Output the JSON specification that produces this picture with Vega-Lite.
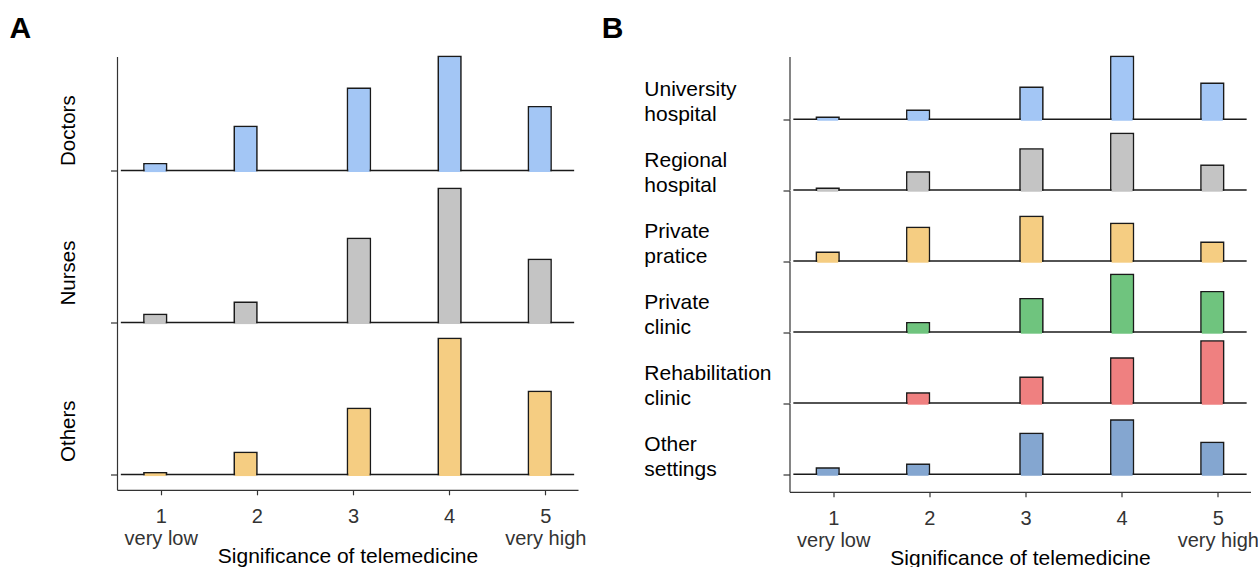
{
  "$schema": "https://vega.github.io/schema/vega-lite/v6.json",
  "padding": {"left": 9, "top": 13.5, "right": 0, "bottom": 0},
  "config": {
    "font": "Liberation Sans",
    "view": {"stroke": null},
    "axis": {"grid": false, "domainColor": "#333333", "tickColor": "#333333", "domainWidth": 1.2, "tickWidth": 1.2, "labelFlush": false, "labelOverlap": false, "labelBound": false}
  },
  "datasets": {
    "a": [
      {"group": "Doctors", "level": 1, "x0": 0.825, "x1": 1.06, "value": 2.2},
      {"group": "Doctors", "level": 2, "x0": 1.765, "x1": 2.0, "value": 14.2},
      {"group": "Doctors", "level": 3, "x0": 2.943, "x1": 3.18, "value": 26.5},
      {"group": "Doctors", "level": 4, "x0": 3.887, "x1": 4.122, "value": 36.8},
      {"group": "Doctors", "level": 5, "x0": 4.825, "x1": 5.06, "value": 20.6},
      {"group": "Nurses", "level": 1, "x0": 0.825, "x1": 1.06, "value": 2.6},
      {"group": "Nurses", "level": 2, "x0": 1.765, "x1": 2.0, "value": 6.5},
      {"group": "Nurses", "level": 3, "x0": 2.943, "x1": 3.18, "value": 27.1},
      {"group": "Nurses", "level": 4, "x0": 3.887, "x1": 4.122, "value": 43.2},
      {"group": "Nurses", "level": 5, "x0": 4.825, "x1": 5.06, "value": 20.3},
      {"group": "Others", "level": 1, "x0": 0.825, "x1": 1.06, "value": 0.6},
      {"group": "Others", "level": 2, "x0": 1.765, "x1": 2.0, "value": 7.1},
      {"group": "Others", "level": 3, "x0": 2.943, "x1": 3.18, "value": 21.3},
      {"group": "Others", "level": 4, "x0": 3.887, "x1": 4.122, "value": 43.9},
      {"group": "Others", "level": 5, "x0": 4.825, "x1": 5.06, "value": 26.8}
    ],
    "b": [
      {"group": "University hospital", "level": 1, "x0": 0.825, "x1": 1.06, "value": 1.4},
      {"group": "University hospital", "level": 2, "x0": 1.765, "x1": 2.0, "value": 6.4},
      {"group": "University hospital", "level": 3, "x0": 2.943, "x1": 3.18, "value": 22.7},
      {"group": "University hospital", "level": 4, "x0": 3.887, "x1": 4.122, "value": 44.5},
      {"group": "University hospital", "level": 5, "x0": 4.825, "x1": 5.06, "value": 25.5},
      {"group": "Regional hospital", "level": 1, "x0": 0.825, "x1": 1.06, "value": 1.4},
      {"group": "Regional hospital", "level": 2, "x0": 1.765, "x1": 2.0, "value": 12.8},
      {"group": "Regional hospital", "level": 3, "x0": 2.943, "x1": 3.18, "value": 29.1},
      {"group": "Regional hospital", "level": 4, "x0": 3.887, "x1": 4.122, "value": 40.1},
      {"group": "Regional hospital", "level": 5, "x0": 4.825, "x1": 5.06, "value": 17.7},
      {"group": "Private pratice", "level": 1, "x0": 0.825, "x1": 1.06, "value": 6.2},
      {"group": "Private pratice", "level": 2, "x0": 1.765, "x1": 2.0, "value": 23.9},
      {"group": "Private pratice", "level": 3, "x0": 2.943, "x1": 3.18, "value": 31.7},
      {"group": "Private pratice", "level": 4, "x0": 3.887, "x1": 4.122, "value": 26.7},
      {"group": "Private pratice", "level": 5, "x0": 4.825, "x1": 5.06, "value": 13.3},
      {"group": "Private clinic", "level": 2, "x0": 1.765, "x1": 2.0, "value": 6.7},
      {"group": "Private clinic", "level": 3, "x0": 2.943, "x1": 3.18, "value": 23.7},
      {"group": "Private clinic", "level": 4, "x0": 3.887, "x1": 4.122, "value": 40.9},
      {"group": "Private clinic", "level": 5, "x0": 4.825, "x1": 5.06, "value": 28.7},
      {"group": "Rehabilitation clinic", "level": 2, "x0": 1.765, "x1": 2.0, "value": 7.1},
      {"group": "Rehabilitation clinic", "level": 3, "x0": 2.943, "x1": 3.18, "value": 18.4},
      {"group": "Rehabilitation clinic", "level": 4, "x0": 3.887, "x1": 4.122, "value": 31.9},
      {"group": "Rehabilitation clinic", "level": 5, "x0": 4.825, "x1": 5.06, "value": 44.0},
      {"group": "Other settings", "level": 1, "x0": 0.825, "x1": 1.06, "value": 4.3},
      {"group": "Other settings", "level": 2, "x0": 1.765, "x1": 2.0, "value": 7.1},
      {"group": "Other settings", "level": 3, "x0": 2.943, "x1": 3.18, "value": 28.9},
      {"group": "Other settings", "level": 4, "x0": 3.887, "x1": 4.122, "value": 38.3},
      {"group": "Other settings", "level": 5, "x0": 4.825, "x1": 5.06, "value": 22.5}
    ]
  },
  "spacing": 15.5,
  "hconcat": [
    {
      "title": {"text": "A", "anchor": "start", "fontSize": 30, "fontWeight": "bold", "color": "#000000", "baseline": "alphabetic", "offset": -12.5, "dx": -49},
      "spacing": 0,
      "bounds": "flush",
      "resolve": {"scale": {"x": "independent", "y": "independent"}},
      "vconcat": [
        {
          "width": 461, "height": 114,
          "data": {"name": "a"},
          "layer": [
            {"transform": [{"filter": "datum.group === 'Doctors'"}],
             "mark": {"type": "rect", "stroke": "#1a1a1a", "strokeWidth": 1.5},
             "encoding": {
               "x": {"field": "x0", "type": "quantitative", "scale": {"domain": [0.545, 5.34], "nice": false, "zero": false}, "axis": null},
               "x2": {"field": "x1"},
               "y": {"field": "value", "type": "quantitative", "scale": {"domain": [0, 36.77], "nice": false, "zero": false},
                     "axis": {"values": [0], "title": null, "tickSize": 6.5, "labelExpr": "'Doctors'", "labelAngle": -90, "labelAlign": "left", "labelBaseline": "alphabetic", "labelPadding": 36, "labelOffset": -5, "labelFontSize": 20.5, "labelColor": "#000000"}},
               "y2": {"datum": 0},
               "fill": {"field": "group", "type": "nominal", "legend": null,
                        "scale": {"domain": ["Doctors", "Nurses", "Others", "University hospital", "Regional hospital", "Private pratice", "Private clinic", "Rehabilitation clinic", "Other settings"], "range": ["#a3c6f5", "#c4c4c4", "#f5cd82", "#a3c6f5", "#c4c4c4", "#f5cd82", "#6fc47e", "#ef8080", "#84a6d0"]}}
             }},
            {"data": {"values": [{}]},
             "mark": {"type": "rule", "color": "#1a1a1a", "strokeWidth": 1.5},
             "encoding": {"x": {"datum": 0.585}, "x2": {"datum": 5.30}, "y": {"datum": 0}}},
            {"transform": [{"filter": "datum.group === 'Doctors'"}],
             "mark": {"type": "rect", "xOffset": 0.8, "x2Offset": -0.8, "yOffset": 0.8, "y2Offset": 1.6},
             "encoding": {
               "x": {"field": "x0", "type": "quantitative"},
               "x2": {"field": "x1"},
               "y": {"field": "value", "type": "quantitative"},
               "y2": {"datum": 0},
               "fill": {"field": "group", "type": "nominal", "legend": null}
             }}
          ]
        },
        {
          "width": 461, "height": 152,
          "data": {"name": "a"},
          "layer": [
            {"transform": [{"filter": "datum.group === 'Nurses'"}],
             "mark": {"type": "rect", "stroke": "#1a1a1a", "strokeWidth": 1.5},
             "encoding": {
               "x": {"field": "x0", "type": "quantitative", "scale": {"domain": [0.545, 5.34], "nice": false, "zero": false}, "axis": null},
               "x2": {"field": "x1"},
               "y": {"field": "value", "type": "quantitative", "scale": {"domain": [0, 49.03], "nice": false, "zero": false},
                     "axis": {"values": [0], "title": null, "tickSize": 6.5, "labelExpr": "'Nurses'", "labelAngle": -90, "labelAlign": "left", "labelBaseline": "alphabetic", "labelPadding": 36, "labelOffset": -17.5, "labelFontSize": 20.5, "labelColor": "#000000"}},
               "y2": {"datum": 0},
               "fill": {"field": "group", "type": "nominal", "legend": null,
                        "scale": {"domain": ["Doctors", "Nurses", "Others", "University hospital", "Regional hospital", "Private pratice", "Private clinic", "Rehabilitation clinic", "Other settings"], "range": ["#a3c6f5", "#c4c4c4", "#f5cd82", "#a3c6f5", "#c4c4c4", "#f5cd82", "#6fc47e", "#ef8080", "#84a6d0"]}}
             }},
            {"data": {"values": [{}]},
             "mark": {"type": "rule", "color": "#1a1a1a", "strokeWidth": 1.5},
             "encoding": {"x": {"datum": 0.585}, "x2": {"datum": 5.30}, "y": {"datum": 0}}},
            {"transform": [{"filter": "datum.group === 'Nurses'"}],
             "mark": {"type": "rect", "xOffset": 0.8, "x2Offset": -0.8, "yOffset": 0.8, "y2Offset": 1.6},
             "encoding": {
               "x": {"field": "x0", "type": "quantitative"},
               "x2": {"field": "x1"},
               "y": {"field": "value", "type": "quantitative"},
               "y2": {"datum": 0},
               "fill": {"field": "group", "type": "nominal", "legend": null}
             }}
          ]
        },
        {
          "width": 461, "height": 167.3,
          "data": {"name": "a"},
          "layer": [
            {"transform": [{"filter": "datum.group === 'Others'"}],
             "mark": {"type": "rect", "stroke": "#1a1a1a", "strokeWidth": 1.5},
             "encoding": {
               "x": {"field": "x0", "type": "quantitative", "scale": {"domain": [0.545, 5.34], "nice": false, "zero": false},
                     "axis": {"values": [1, 2, 3, 4, 5], "tickSize": 5, "labelExpr": "datum.value == 1 ? ['1', 'very low'] : datum.value == 5 ? ['5', 'very high'] : '' + datum.value", "labelFontSize": 20, "labelColor": "#333333", "labelLineHeight": 22, "labelBaseline": "alphabetic", "labelPadding": 27.5, "title": "Significance of telemedicine", "titleFontSize": 21, "titleFontWeight": "normal", "titleColor": "#000000", "titleBaseline": "alphabetic", "titleY": 73}},
               "x2": {"field": "x1"},
               "y": {"field": "value", "type": "quantitative", "scale": {"domain": [-4.94, 49.03], "nice": false, "zero": false},
                     "axis": {"values": [0], "title": null, "tickSize": 6.5, "labelExpr": "'Others'", "labelAngle": -90, "labelAlign": "left", "labelBaseline": "alphabetic", "labelPadding": 36, "labelOffset": -13, "labelFontSize": 20.5, "labelColor": "#000000"}},
               "y2": {"datum": 0},
               "fill": {"field": "group", "type": "nominal", "legend": null,
                        "scale": {"domain": ["Doctors", "Nurses", "Others", "University hospital", "Regional hospital", "Private pratice", "Private clinic", "Rehabilitation clinic", "Other settings"], "range": ["#a3c6f5", "#c4c4c4", "#f5cd82", "#a3c6f5", "#c4c4c4", "#f5cd82", "#6fc47e", "#ef8080", "#84a6d0"]}}
             }},
            {"data": {"values": [{}]},
             "mark": {"type": "rule", "color": "#1a1a1a", "strokeWidth": 1.5},
             "encoding": {"x": {"datum": 0.585}, "x2": {"datum": 5.30}, "y": {"datum": 0}}},
            {"transform": [{"filter": "datum.group === 'Others'"}],
             "mark": {"type": "rect", "xOffset": 0.8, "x2Offset": -0.8, "yOffset": 0.8, "y2Offset": 1.6},
             "encoding": {
               "x": {"field": "x0", "type": "quantitative"},
               "x2": {"field": "x1"},
               "y": {"field": "value", "type": "quantitative"},
               "y2": {"datum": 0},
               "fill": {"field": "group", "type": "nominal", "legend": null}
             }}
          ]
        }
      ]
    },
    {
      "title": {"text": "B", "anchor": "start", "fontSize": 30, "fontWeight": "bold", "color": "#000000", "baseline": "alphabetic", "offset": -12.5, "dx": -42},
      "spacing": 0,
      "bounds": "flush",
      "resolve": {"scale": {"x": "independent", "y": "independent"}},
      "vconcat": [
        {
          "width": 461, "height": 62.7,
          "data": {"name": "b"},
          "layer": [
            {"transform": [{"filter": "datum.group === 'University hospital'"}],
             "mark": {"type": "rect", "stroke": "#1a1a1a", "strokeWidth": 1.5},
             "encoding": {
               "x": {"field": "x0", "type": "quantitative", "scale": {"domain": [0.545, 5.34], "nice": false, "zero": false}, "axis": null},
               "x2": {"field": "x1"},
               "y": {"field": "value", "type": "quantitative", "scale": {"domain": [0, 44.47], "nice": false, "zero": false},
                     "axis": {"values": [0], "title": null, "tickSize": 6.5, "labelExpr": "['University', 'hospital']", "labelAngle": 0, "labelAlign": "left", "labelBaseline": "alphabetic", "labelLineHeight": 25.5, "labelPadding": 139.2, "labelOffset": -24, "labelFontSize": 21, "labelColor": "#000000"}},
               "y2": {"datum": 0},
               "fill": {"field": "group", "type": "nominal", "legend": null,
                        "scale": {"domain": ["Doctors", "Nurses", "Others", "University hospital", "Regional hospital", "Private pratice", "Private clinic", "Rehabilitation clinic", "Other settings"], "range": ["#a3c6f5", "#c4c4c4", "#f5cd82", "#a3c6f5", "#c4c4c4", "#f5cd82", "#6fc47e", "#ef8080", "#84a6d0"]}}
             }},
            {"data": {"values": [{}]},
             "mark": {"type": "rule", "color": "#1a1a1a", "strokeWidth": 1.5},
             "encoding": {"x": {"datum": 0.585}, "x2": {"datum": 5.30}, "y": {"datum": 0}}},
            {"transform": [{"filter": "datum.group === 'University hospital'"}],
             "mark": {"type": "rect", "xOffset": 0.8, "x2Offset": -0.8, "yOffset": 0.8, "y2Offset": 1.6},
             "encoding": {
               "x": {"field": "x0", "type": "quantitative"},
               "x2": {"field": "x1"},
               "y": {"field": "value", "type": "quantitative"},
               "y2": {"datum": 0},
               "fill": {"field": "group", "type": "nominal", "legend": null}
             }}
          ]
        },
        {
          "width": 461, "height": 70.6,
          "data": {"name": "b"},
          "layer": [
            {"transform": [{"filter": "datum.group === 'Regional hospital'"}],
             "mark": {"type": "rect", "stroke": "#1a1a1a", "strokeWidth": 1.5},
             "encoding": {
               "x": {"field": "x0", "type": "quantitative", "scale": {"domain": [0.545, 5.34], "nice": false, "zero": false}, "axis": null},
               "x2": {"field": "x1"},
               "y": {"field": "value", "type": "quantitative", "scale": {"domain": [0, 50.07], "nice": false, "zero": false},
                     "axis": {"values": [0], "title": null, "tickSize": 6.5, "labelExpr": "['Regional', 'hospital']", "labelAngle": 0, "labelAlign": "left", "labelBaseline": "alphabetic", "labelLineHeight": 25.5, "labelPadding": 139.2, "labelOffset": -24, "labelFontSize": 21, "labelColor": "#000000"}},
               "y2": {"datum": 0},
               "fill": {"field": "group", "type": "nominal", "legend": null,
                        "scale": {"domain": ["Doctors", "Nurses", "Others", "University hospital", "Regional hospital", "Private pratice", "Private clinic", "Rehabilitation clinic", "Other settings"], "range": ["#a3c6f5", "#c4c4c4", "#f5cd82", "#a3c6f5", "#c4c4c4", "#f5cd82", "#6fc47e", "#ef8080", "#84a6d0"]}}
             }},
            {"data": {"values": [{}]},
             "mark": {"type": "rule", "color": "#1a1a1a", "strokeWidth": 1.5},
             "encoding": {"x": {"datum": 0.585}, "x2": {"datum": 5.30}, "y": {"datum": 0}}},
            {"transform": [{"filter": "datum.group === 'Regional hospital'"}],
             "mark": {"type": "rect", "xOffset": 0.8, "x2Offset": -0.8, "yOffset": 0.8, "y2Offset": 1.6},
             "encoding": {
               "x": {"field": "x0", "type": "quantitative"},
               "x2": {"field": "x1"},
               "y": {"field": "value", "type": "quantitative"},
               "y2": {"datum": 0},
               "fill": {"field": "group", "type": "nominal", "legend": null}
             }}
          ]
        },
        {
          "width": 461, "height": 70.6,
          "data": {"name": "b"},
          "layer": [
            {"transform": [{"filter": "datum.group === 'Private pratice'"}],
             "mark": {"type": "rect", "stroke": "#1a1a1a", "strokeWidth": 1.5},
             "encoding": {
               "x": {"field": "x0", "type": "quantitative", "scale": {"domain": [0.545, 5.34], "nice": false, "zero": false}, "axis": null},
               "x2": {"field": "x1"},
               "y": {"field": "value", "type": "quantitative", "scale": {"domain": [0, 50.07], "nice": false, "zero": false},
                     "axis": {"values": [0], "title": null, "tickSize": 6.5, "labelExpr": "['Private', 'pratice']", "labelAngle": 0, "labelAlign": "left", "labelBaseline": "alphabetic", "labelLineHeight": 25.5, "labelPadding": 139.2, "labelOffset": -24, "labelFontSize": 21, "labelColor": "#000000"}},
               "y2": {"datum": 0},
               "fill": {"field": "group", "type": "nominal", "legend": null,
                        "scale": {"domain": ["Doctors", "Nurses", "Others", "University hospital", "Regional hospital", "Private pratice", "Private clinic", "Rehabilitation clinic", "Other settings"], "range": ["#a3c6f5", "#c4c4c4", "#f5cd82", "#a3c6f5", "#c4c4c4", "#f5cd82", "#6fc47e", "#ef8080", "#84a6d0"]}}
             }},
            {"data": {"values": [{}]},
             "mark": {"type": "rule", "color": "#1a1a1a", "strokeWidth": 1.5},
             "encoding": {"x": {"datum": 0.585}, "x2": {"datum": 5.30}, "y": {"datum": 0}}},
            {"transform": [{"filter": "datum.group === 'Private pratice'"}],
             "mark": {"type": "rect", "xOffset": 0.8, "x2Offset": -0.8, "yOffset": 0.8, "y2Offset": 1.6},
             "encoding": {
               "x": {"field": "x0", "type": "quantitative"},
               "x2": {"field": "x1"},
               "y": {"field": "value", "type": "quantitative"},
               "y2": {"datum": 0},
               "fill": {"field": "group", "type": "nominal", "legend": null}
             }}
          ]
        },
        {
          "width": 461, "height": 70.6,
          "data": {"name": "b"},
          "layer": [
            {"transform": [{"filter": "datum.group === 'Private clinic'"}],
             "mark": {"type": "rect", "stroke": "#1a1a1a", "strokeWidth": 1.5},
             "encoding": {
               "x": {"field": "x0", "type": "quantitative", "scale": {"domain": [0.545, 5.34], "nice": false, "zero": false}, "axis": null},
               "x2": {"field": "x1"},
               "y": {"field": "value", "type": "quantitative", "scale": {"domain": [0, 50.07], "nice": false, "zero": false},
                     "axis": {"values": [0], "title": null, "tickSize": 6.5, "labelExpr": "['Private', 'clinic']", "labelAngle": 0, "labelAlign": "left", "labelBaseline": "alphabetic", "labelLineHeight": 25.5, "labelPadding": 139.2, "labelOffset": -24, "labelFontSize": 21, "labelColor": "#000000"}},
               "y2": {"datum": 0},
               "fill": {"field": "group", "type": "nominal", "legend": null,
                        "scale": {"domain": ["Doctors", "Nurses", "Others", "University hospital", "Regional hospital", "Private pratice", "Private clinic", "Rehabilitation clinic", "Other settings"], "range": ["#a3c6f5", "#c4c4c4", "#f5cd82", "#a3c6f5", "#c4c4c4", "#f5cd82", "#6fc47e", "#ef8080", "#84a6d0"]}}
             }},
            {"data": {"values": [{}]},
             "mark": {"type": "rule", "color": "#1a1a1a", "strokeWidth": 1.5},
             "encoding": {"x": {"datum": 0.585}, "x2": {"datum": 5.30}, "y": {"datum": 0}}},
            {"transform": [{"filter": "datum.group === 'Private clinic'"}],
             "mark": {"type": "rect", "xOffset": 0.8, "x2Offset": -0.8, "yOffset": 0.8, "y2Offset": 1.6},
             "encoding": {
               "x": {"field": "x0", "type": "quantitative"},
               "x2": {"field": "x1"},
               "y": {"field": "value", "type": "quantitative"},
               "y2": {"datum": 0},
               "fill": {"field": "group", "type": "nominal", "legend": null}
             }}
          ]
        },
        {
          "width": 461, "height": 70.6,
          "data": {"name": "b"},
          "layer": [
            {"transform": [{"filter": "datum.group === 'Rehabilitation clinic'"}],
             "mark": {"type": "rect", "stroke": "#1a1a1a", "strokeWidth": 1.5},
             "encoding": {
               "x": {"field": "x0", "type": "quantitative", "scale": {"domain": [0.545, 5.34], "nice": false, "zero": false}, "axis": null},
               "x2": {"field": "x1"},
               "y": {"field": "value", "type": "quantitative", "scale": {"domain": [0, 50.07], "nice": false, "zero": false},
                     "axis": {"values": [0], "title": null, "tickSize": 6.5, "labelExpr": "['Rehabilitation', 'clinic']", "labelAngle": 0, "labelAlign": "left", "labelBaseline": "alphabetic", "labelLineHeight": 25.5, "labelPadding": 139.2, "labelOffset": -24, "labelFontSize": 21, "labelColor": "#000000"}},
               "y2": {"datum": 0},
               "fill": {"field": "group", "type": "nominal", "legend": null,
                        "scale": {"domain": ["Doctors", "Nurses", "Others", "University hospital", "Regional hospital", "Private pratice", "Private clinic", "Rehabilitation clinic", "Other settings"], "range": ["#a3c6f5", "#c4c4c4", "#f5cd82", "#a3c6f5", "#c4c4c4", "#f5cd82", "#6fc47e", "#ef8080", "#84a6d0"]}}
             }},
            {"data": {"values": [{}]},
             "mark": {"type": "rule", "color": "#1a1a1a", "strokeWidth": 1.5},
             "encoding": {"x": {"datum": 0.585}, "x2": {"datum": 5.30}, "y": {"datum": 0}}},
            {"transform": [{"filter": "datum.group === 'Rehabilitation clinic'"}],
             "mark": {"type": "rect", "xOffset": 0.8, "x2Offset": -0.8, "yOffset": 0.8, "y2Offset": 1.6},
             "encoding": {
               "x": {"field": "x0", "type": "quantitative"},
               "x2": {"field": "x1"},
               "y": {"field": "value", "type": "quantitative"},
               "y2": {"datum": 0},
               "fill": {"field": "group", "type": "nominal", "legend": null}
             }}
          ]
        },
        {
          "width": 461, "height": 88.3,
          "data": {"name": "b"},
          "layer": [
            {"transform": [{"filter": "datum.group === 'Other settings'"}],
             "mark": {"type": "rect", "stroke": "#1a1a1a", "strokeWidth": 1.5},
             "encoding": {
               "x": {"field": "x0", "type": "quantitative", "scale": {"domain": [0.545, 5.34], "nice": false, "zero": false},
                     "axis": {"values": [1, 2, 3, 4, 5], "tickSize": 5, "labelExpr": "datum.value == 1 ? ['1', 'very low'] : datum.value == 5 ? ['5', 'very high'] : '' + datum.value", "labelFontSize": 20, "labelColor": "#333333", "labelLineHeight": 22, "labelBaseline": "alphabetic", "labelPadding": 27.5, "title": "Significance of telemedicine", "titleFontSize": 21, "titleFontWeight": "normal", "titleColor": "#000000", "titleBaseline": "alphabetic", "titleY": 73}},
               "x2": {"field": "x1"},
               "y": {"field": "value", "type": "quantitative", "scale": {"domain": [-12.48, 50.07], "nice": false, "zero": false},
                     "axis": {"values": [0], "title": null, "tickSize": 6.5, "labelExpr": "['Other', 'settings']", "labelAngle": 0, "labelAlign": "left", "labelBaseline": "alphabetic", "labelLineHeight": 25.5, "labelPadding": 139.2, "labelOffset": -24, "labelFontSize": 21, "labelColor": "#000000"}},
               "y2": {"datum": 0},
               "fill": {"field": "group", "type": "nominal", "legend": null,
                        "scale": {"domain": ["Doctors", "Nurses", "Others", "University hospital", "Regional hospital", "Private pratice", "Private clinic", "Rehabilitation clinic", "Other settings"], "range": ["#a3c6f5", "#c4c4c4", "#f5cd82", "#a3c6f5", "#c4c4c4", "#f5cd82", "#6fc47e", "#ef8080", "#84a6d0"]}}
             }},
            {"data": {"values": [{}]},
             "mark": {"type": "rule", "color": "#1a1a1a", "strokeWidth": 1.5},
             "encoding": {"x": {"datum": 0.585}, "x2": {"datum": 5.30}, "y": {"datum": 0}}},
            {"transform": [{"filter": "datum.group === 'Other settings'"}],
             "mark": {"type": "rect", "xOffset": 0.8, "x2Offset": -0.8, "yOffset": 0.8, "y2Offset": 1.6},
             "encoding": {
               "x": {"field": "x0", "type": "quantitative"},
               "x2": {"field": "x1"},
               "y": {"field": "value", "type": "quantitative"},
               "y2": {"datum": 0},
               "fill": {"field": "group", "type": "nominal", "legend": null}
             }}
          ]
        }
      ]
    }
  ]
}
